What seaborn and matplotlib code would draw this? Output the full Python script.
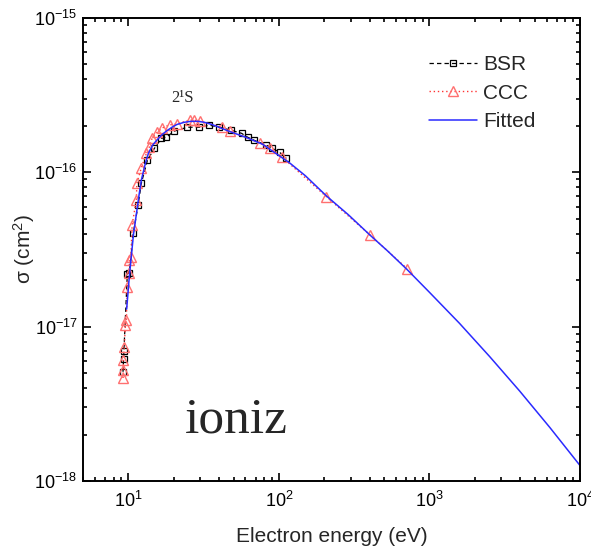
import numpy as np
import pandas as pd
import matplotlib
matplotlib.use("Agg")
import matplotlib.pyplot as plt
import seaborn as sns
from matplotlib.ticker import LogLocator, NullFormatter

# ---- data ----
bsr_energy = [9.22, 9.3, 9.35, 9.85, 10.15, 10.8, 11.6, 12.2, 13.4, 14.9, 16.6,
              17.9, 20.2, 24.7, 29.6, 34.6, 40.3, 48.4, 56.5, 61.9, 68.8,
              82.6, 90.5, 101, 112]
bsr_sigma = [5.1e-18, 6.2e-18, 7.0e-18, 2.2e-17, 2.24e-17, 4.07e-17, 6.1e-17,
             8.5e-17, 1.2e-16, 1.43e-16, 1.66e-16, 1.69e-16, 1.85e-16, 1.96e-16,
             1.96e-16, 2.02e-16, 1.96e-16, 1.87e-16, 1.79e-16, 1.69e-16,
             1.61e-16, 1.5e-16, 1.43e-16, 1.35e-16, 1.23e-16]

ccc_energy = [9.22, 9.25, 9.28, 9.4, 9.55, 9.7, 9.85, 10.1, 10.15, 10.4, 10.6,
              11.3, 11.4, 12.2, 13.2, 13.8, 14.4, 15.6, 16.8, 18.8, 21.0,
              25.5, 27.5, 29.7, 41.6, 47.0, 74.5, 86.8, 104.5, 207, 403, 709]
ccc_sigma = [4.65e-18, 5.2e-18, 6.08e-18, 7.4e-18, 1.02e-17, 1.1e-17, 1.8e-17,
             2.24e-17, 2.7e-17, 2.83e-17, 4.57e-17, 6.6e-17, 8.5e-17, 1.07e-16,
             1.33e-16, 1.46e-16, 1.67e-16, 1.82e-16, 1.94e-16, 2.03e-16,
             2.06e-16, 2.18e-16, 2.18e-16, 2.14e-16, 1.97e-16, 1.85e-16,
             1.55e-16, 1.44e-16, 1.26e-16, 6.95e-17, 3.93e-17, 2.38e-17]

fit_energy = [9.75, 10.15, 10.8, 11.8, 12.2, 13.0, 13.6, 14.5, 15.5, 16.7,
              17.9, 19.5, 21, 23.5, 26, 29, 32, 36, 40, 47, 60, 78, 95, 118,
              150, 208, 290, 403, 530, 709, 1000, 1585, 2512, 3981, 6310, 10000]
fit_sigma = [1.3e-17, 2.1e-17, 3.9e-17, 7.2e-17, 8.9e-17, 1.15e-16, 1.33e-16,
             1.5e-16, 1.62e-16, 1.75e-16, 1.85e-16, 1.96e-16, 2.04e-16,
             2.11e-16, 2.14e-16, 2.14e-16, 2.11e-16, 2.04e-16, 1.96e-16,
             1.84e-16, 1.69e-16, 1.52e-16, 1.33e-16, 1.15e-16, 9.5e-17,
             7.0e-17, 5.3e-17, 3.92e-17, 3.08e-17, 2.35e-17, 1.67e-17,
             1.05e-17, 6.4e-18, 3.82e-18, 2.22e-18, 1.26e-18]

series_labels = ["BSR", "CCC", "Fitted"]
state_label = "2¹S"
process_label = "ioniz"

# ---- style ----
sns.set_style("ticks")
plt.rcParams['font.family'] = ['Liberation Sans', 'DejaVu Sans']
plt.rcParams['mathtext.fontset'] = 'custom'
plt.rcParams['mathtext.rm'] = 'Liberation Sans'
plt.rcParams['mathtext.it'] = 'Liberation Sans:italic'

fig = plt.figure(figsize=(5.91, 5.52), dpi=100)
ax = fig.add_axes([83 / 591, 1 - 481 / 552, 497 / 591, 463 / 552])

bsr = pd.DataFrame({"E": bsr_energy, "s": bsr_sigma})
ccc = pd.DataFrame({"E": ccc_energy, "s": ccc_sigma})
fit = pd.DataFrame({"E": fit_energy, "s": fit_sigma})

sns.lineplot(data=bsr, x="E", y="s", ax=ax, sort=False, estimator=None,
             color="black", linestyle=(0, (3.5, 2.5)), linewidth=0.9,
             marker="s", markersize=4.5, markerfacecolor="none",
             markeredgecolor="black", markeredgewidth=0.9,
             label=series_labels[0])
sns.lineplot(data=ccc, x="E", y="s", ax=ax, sort=False, estimator=None,
             color="#ff3333", linestyle=(0, (1, 2)), linewidth=1.0,
             marker="^", markersize=7, markerfacecolor="none",
             markeredgecolor="#ff7070", markeredgewidth=1.0,
             label=series_labels[1])
sns.lineplot(data=fit, x="E", y="s", ax=ax, sort=False, estimator=None,
             color="#2a2aff", linewidth=1.1, label=series_labels[2])

ax.set_xscale("log")
ax.set_yscale("log")
ax.set_xlim(5, 1e4)
ax.set_ylim(1e-18, 1e-15)

ax.xaxis.set_major_locator(LogLocator(base=10, numticks=10))
ax.xaxis.set_minor_locator(LogLocator(base=10, subs=np.arange(2, 10), numticks=20))
ax.yaxis.set_major_locator(LogLocator(base=10, numticks=10))
ax.yaxis.set_minor_locator(LogLocator(base=10, subs=np.arange(2, 10), numticks=20))
ax.xaxis.set_minor_formatter(NullFormatter())
ax.yaxis.set_minor_formatter(NullFormatter())

ax.tick_params(which="both", direction="in", top=True, right=True,
               width=1.2, colors="black")
ax.tick_params(which="major", length=5.5, labelsize=13)
ax.tick_params(axis="x", which="major", pad=7)
ax.tick_params(axis="y", which="major", pad=4)
ax.tick_params(which="minor", length=3)
for sp in ax.spines.values():
    sp.set_linewidth(1.4)
    sp.set_color("black")

ax.set_xlabel("Electron energy (eV)", fontsize=15)
ax.set_ylabel("σ (cm$^{2}$)", fontsize=15)
ax.xaxis.set_label_coords(0.5, -0.099)
ax.yaxis.set_label_coords(-0.0925, 0.5)

ax.text(23.0, 3.03e-16, state_label, fontsize=12, ha="center", va="center",
        family=["Liberation Serif", "DejaVu Serif"])
ax.text(23.6, 2.07e-18, process_label, fontsize=37, ha="left", va="baseline",
        family=["Liberation Serif", "DejaVu Serif"])

leg = ax.legend(loc="upper left", bbox_to_anchor=(0.659, 0.96), frameon=False,
                fontsize=15, handlelength=2.3, labelspacing=0.45,
                handletextpad=0.3)

fig.savefig("out.png", dpi=100)
